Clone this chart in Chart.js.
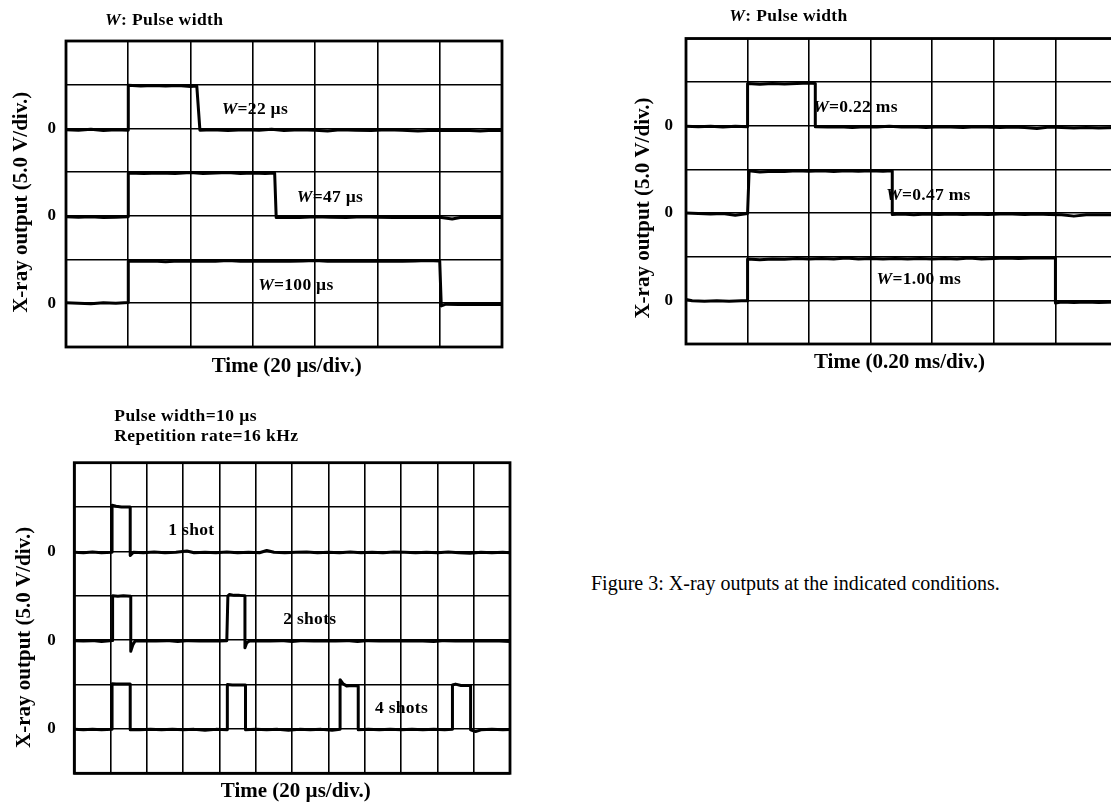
<!DOCTYPE html>
<html>
<head>
<meta charset="utf-8">
<script src="https://cdn.jsdelivr.net/npm/chart.js@4.4.1/dist/chart.umd.min.js"></script>
<style>
  html, body { margin: 0; padding: 0; background: #fff; overflow: hidden; }
  #page { position: relative; width: 1111px; height: 805px; overflow: hidden; background: #fff; }
  canvas { position: absolute; }
  #caption {
    position: absolute; left: 591px; top: 573px;
    font: 20px "Liberation Serif", "Times New Roman", serif; line-height: 20px;
    color: #000; white-space: nowrap;
  }
</style>
</head>
<body>
<div id="page">
  <canvas id="scopeWidthUs" width="540" height="380" style="left:0;top:0"></canvas>
  <canvas id="scopeWidthMs" width="520" height="380" style="left:620px;top:0"></canvas>
  <canvas id="scopeBurst" width="540" height="415" style="left:0;top:390px"></canvas>
  <div id="caption">Figure 3: X-ray outputs at the indicated conditions.</div>
</div>
<script>
// ---- scope settings -------------------------------------------------------
const VOLTS_PER_DIV = 5.0;          // vertical sensitivity
const DIVS_Y = 7;                   // graticule rows
const ZERO_LEVELS = [5, 3, 1];      // graticule row holding each trace's 0 V

// ---- panel 1: pulse widths in microseconds (20 us/div) -------------------
const usWidths = [22, 47, 100];
// [time (us), output (V)]
const usTraceW22 = [[0,-0.15],[4,-0.2],[8,-0.1],[12,-0.25],[16,-0.15],[20,-0.2],
  [20,4.95],[24,4.85],[28,4.9],[32,4.85],[36,4.9],[40,4.8],[42,4.85],
  [43,-0.2],[47,-0.15],[52,-0.25],[57,-0.15],[62,-0.2],[66,-0.1],[70,-0.25],[75,-0.15],
  [80,-0.2],[84,-0.3],[88,-0.15],[93,-0.2],[98,-0.25],[103,-0.15],[108,-0.2],[113,-0.3],
  [118,-0.2],[123,-0.25],[128,-0.2],[133,-0.3],[137,-0.2],[140,-0.25]];
const usTraceW47 = [[0,-0.1],[4,-0.15],[8,-0.1],[12,-0.2],[16,-0.15],[20,-0.1],
  [20,4.9],[25,4.85],[30,4.9],[35,4.85],[40,4.95],[44,4.85],[48,4.9],[52,4.95],[56,4.85],
  [60,4.9],[64,4.85],[67,4.9],
  [67.5,-0.2],[71,-0.15],[75,-0.2],[80,-0.1],[85,-0.15],[90,-0.2],[95,-0.1],[100,-0.15],
  [105,-0.2],[110,-0.15],[115,-0.2],[120,-0.15],[124,-0.35],[127,-0.15],[132,-0.2],
  [136,-0.15],[140,-0.2]];
const usTraceW100 = [[0,0.05],[4,0],[8,-0.05],[12,0.05],[16,0],[20,0.1],
  [20,4.85],[24,4.8],[28,4.85],[32,4.75],[36,4.85],[40,4.8],[44,4.85],[48,4.8],[52,4.9],
  [56,4.8],[60,4.85],[64,4.8],[68,4.85],[72,4.8],[76,4.85],[80,4.9],[84,4.8],[88,4.85],
  [92,4.8],[96,4.85],[100,4.8],[104,4.85],[108,4.8],[112,4.85],[116,4.9],[120,4.85],
  [120.5,-0.3],[122,-0.1],[126,-0.15],[130,-0.1],[134,-0.15],[138,-0.1],[140,-0.15]];
// label anchors [time (us), graticule row]
const usLabelAt = [[50, 5.44], [74.1, 3.43], [61.7, 1.41]];

// ---- panel 2: pulse widths in milliseconds (0.20 ms/div) -----------------
const msWidths = ['0.22', '0.47', '1.00'];
// [time (ms), output (V)]
const msTraceW022 = [[0,-0.05],[0.04,-0.1],[0.08,-0.05],[0.12,-0.15],[0.16,-0.05],[0.2,-0.1],
  [0.2,4.85],[0.24,4.75],[0.28,4.85],[0.32,4.8],[0.36,4.85],[0.4,4.9],[0.42,4.85],
  [0.42,-0.1],[0.46,-0.15],[0.5,-0.1],[0.54,-0.2],[0.58,-0.1],[0.62,-0.15],[0.66,-0.05],
  [0.7,-0.15],[0.74,-0.1],[0.78,-0.2],[0.82,-0.1],[0.86,-0.15],[0.9,-0.2],[0.94,-0.1],
  [0.98,-0.15],[1.02,-0.2],[1.06,-0.15],[1.1,-0.2],[1.14,-0.3],[1.18,-0.15],[1.22,-0.2],
  [1.26,-0.25],[1.3,-0.2],[1.34,-0.25],[1.4,-0.2]];
const msTraceW047 = [[0,0],[0.04,-0.05],[0.08,-0.1],[0.12,-0.05],[0.16,-0.25],[0.2,-0.05],
  [0.205,4.85],[0.24,4.7],[0.28,4.8],[0.32,4.75],[0.36,4.85],[0.4,4.8],[0.44,4.85],
  [0.48,4.75],[0.52,4.85],[0.56,4.8],[0.6,4.85],[0.64,4.8],[0.67,4.85],
  [0.67,-0.15],[0.7,-0.1],[0.74,-0.2],[0.78,-0.1],[0.82,-0.15],[0.86,-0.1],[0.9,-0.15],
  [0.94,-0.1],[0.98,-0.15],[1.02,-0.1],[1.06,-0.1],[1.1,-0.15],[1.14,-0.1],[1.18,-0.15],
  [1.22,-0.2],[1.26,-0.35],[1.3,-0.2],[1.34,-0.2],[1.4,-0.2]];
const msTraceW100 = [[0,0.1],[0.02,-0.05],[0.06,-0.1],[0.1,-0.05],[0.14,-0.1],[0.18,-0.05],[0.2,-0.05],
  [0.2,4.75],[0.24,4.65],[0.28,4.75],[0.32,4.7],[0.36,4.8],[0.4,4.75],[0.44,4.8],[0.48,4.75],
  [0.52,4.85],[0.56,4.75],[0.6,4.8],[0.64,4.75],[0.68,4.8],[0.72,4.75],[0.76,4.8],[0.8,4.75],
  [0.84,4.8],[0.88,4.75],[0.92,4.85],[0.96,4.75],[1,4.8],[1.04,4.85],[1.08,4.8],[1.12,4.85],
  [1.16,4.85],[1.2,4.85],
  [1.2,-0.3],[1.22,-0.2],[1.26,-0.25],[1.3,-0.2],[1.34,-0.25],[1.4,-0.2]];
// label anchors [time (ms), graticule row]
const msLabelAt = [[0.413, 5.43], [0.65, 3.41], [0.619, 1.47]];

// ---- panel 3: 10 us pulses at 16 kHz (20 us/div) --------------------------
const burstWidthUs = 10;
const burstRateKHz = 16;
const burstShots = [1, 2, 4];
// [time (us), output (V)]
const burstTrace1 = [[0,-0.1],[5,-0.15],[10,-0.05],[15,-0.15],[20.8,-0.1],
  [20.8,5.2],[23,5.1],[26,5.0],[30.8,5.0],
  [30.8,-0.45],[32.5,-0.1],[38,-0.15],[44,-0.05],[50,-0.15],[56,-0.1],[62,0.05],[66,-0.15],
  [72,-0.1],[78,-0.15],[84,-0.05],[90,-0.15],[96,-0.1],[102,-0.15],[106,0.1],[110,-0.1],
  [116,-0.15],[122,-0.1],[128,-0.05],[134,-0.15],[140,-0.1],[146,-0.15],[152,-0.05],
  [158,-0.15],[164,-0.1],[170,-0.15],[176,-0.05],[182,-0.1],[188,-0.15],[194,-0.1],
  [200,-0.15],[206,-0.05],[212,-0.15],[218,-0.2],[224,-0.1],[230,-0.15],[236,-0.1],[240,-0.15]];
const burstTrace2 = [[0,-0.05],[5,-0.1],[10,-0.05],[15,-0.15],[21.1,-0.05],
  [21.1,5.0],[24,4.95],[27,5.0],[31.1,4.95],
  [31.1,-1.25],[32.3,-0.5],[33.5,-0.1],[39,-0.05],[45,-0.1],[51,-0.05],[57,-0.15],[63,-0.05],
  [69,-0.1],[75,-0.05],[80,-0.1],[84,-0.05],
  [84.6,5.0],[85.5,5.15],[88,5.05],[91,5.05],[94,5.0],
  [94,-0.85],[95,-0.3],[96.5,-0.1],[102,-0.05],[108,-0.1],[114,-0.05],[120,-0.15],[126,-0.05],
  [132,-0.1],[138,-0.05],[144,-0.1],[150,-0.05],[156,-0.15],[162,-0.05],[168,-0.1],[174,-0.05],
  [180,-0.1],[186,-0.05],[192,-0.1],[198,-0.15],[204,-0.05],[210,-0.1],[216,-0.05],[222,-0.1],
  [228,-0.05],[234,-0.1],[240,-0.15]];
const burstTrace4 = [[0,-0.05],[5,-0.1],[10,-0.05],[15,-0.1],[20.8,-0.05],
  [20.8,5.1],[23,5.05],[26,5.05],[30.8,5.05],
  [30.8,-0.1],[36,-0.1],[42,-0.05],[48,-0.1],[54,-0.05],[60,-0.1],[66,-0.05],[72,-0.15],
  [78,-0.05],[84.3,-0.1],
  [84.3,5.0],[87,4.95],[91,4.95],[94.3,4.95],
  [94.3,-0.1],[100,-0.05],[106,-0.1],[112,-0.05],[118,-0.15],[124,-0.05],[130,-0.1],
  [136,-0.05],[142,-0.15],[146.4,-0.05],
  [146.4,5.55],[148,5.1],[150,4.85],[153,4.9],[156.4,4.85],
  [156.4,-0.1],[162,-0.05],[168,-0.1],[174,-0.05],[180,-0.1],[186,-0.05],[192,-0.1],
  [198,-0.05],[204,-0.1],[208.3,-0.05],
  [208.3,4.95],[210,5.05],[213,4.9],[218.3,4.9],
  [218.3,-0.1],[221,-0.3],[224,-0.1],[230,-0.05],[236,-0.1],[240,-0.05]];
// label anchors [time (us), graticule row]
const burstLabelAt = [[51.8, 5.48], [115.1, 3.46], [165.6, 1.46]];

// ---- drawing helpers --------------------------------------------------------
const SERIF = '"Liberation Serif", "Times New Roman", serif';
const INK = '#000';

// draws a row of text pieces, some italic, starting at x (left) centred on y
function drawRuns(ctx, runs, x, y, size, spacing) {
  ctx.textAlign = 'left';
  ctx.textBaseline = 'middle';
  ctx.letterSpacing = spacing + 'px';
  for (const r of runs) {
    ctx.font = (r.italic ? 'italic ' : '') + 'bold ' + size + 'px ' + SERIF;
    ctx.fillText(r.text, x, y);
    x += ctx.measureText(r.text).width;
  }
  ctx.letterSpacing = '0px';
}

// frame, headers, trace notes and axis titles for one scope panel
function decor(s) {
  return {
    id: 'scopeDecor',
    afterDraw(chart) {
      const { ctx, chartArea: a, scales } = chart;
      ctx.save();
      ctx.strokeStyle = INK;
      ctx.lineWidth = 2.8;
      ctx.strokeRect(a.left, a.top, a.right - a.left, a.bottom - a.top);
      ctx.fillStyle = INK;
      for (const h of s.header) drawRuns(ctx, h.runs, h.x, h.y, 17.5, 0.4);
      s.notes.forEach((runs, i) => {
        const [t, row] = s.noteAt[i];
        drawRuns(ctx, runs, scales.x.getPixelForValue(t), scales.y.getPixelForValue(row), 17.5, 0.3);
      });
      ctx.font = 'bold 21px ' + SERIF;
      ctx.textAlign = 'center';
      ctx.textBaseline = 'middle';
      ctx.fillText(s.xTitle, s.xTitlePos[0], s.xTitlePos[1]);
      ctx.translate(s.yTitlePos[0], s.yTitlePos[1]);
      ctx.rotate(-Math.PI / 2);
      ctx.fillText('X-ray output (5.0 V/div.)', 0, 0);
      ctx.restore();
    }
  };
}

function scope(id, s) {
  const grid = { color: INK, lineWidth: 1.6, drawTicks: false };
  new Chart(document.getElementById(id), {
    type: 'line',
    data: {
      datasets: s.traces.map((pts, i) => ({
        data: pts.map(([t, v]) => ({ x: t, y: ZERO_LEVELS[i] + v / VOLTS_PER_DIV })),
        borderColor: '#000',
        borderWidth: 3,
        pointRadius: 0,
        tension: 0,
        fill: false,
        borderJoinStyle: 'round',
        borderCapStyle: 'round'
      }))
    },
    options: {
      responsive: false,
      animation: false,
      events: [],
      layout: { padding: s.pad },
      plugins: { legend: { display: false }, tooltip: { enabled: false } },
      scales: {
        x: {
          type: 'linear', min: 0, max: s.tMax,
          ticks: { display: false, stepSize: s.tDiv },
          grid, border: { display: false }
        },
        y: {
          type: 'linear', min: 0, max: DIVS_Y,
          afterFit: sc => { sc.width = s.axisW; },
          ticks: {
            stepSize: 1, padding: s.tickPad, color: INK,
            font: { family: SERIF, size: 17, weight: 'bold' },
            callback: v => (ZERO_LEVELS.includes(v) ? '0' : '')
          },
          grid, border: { display: false }
        }
      }
    },
    plugins: [decor(s)]
  });
}

const widthHeader = [{ runs: [{ text: 'W', italic: true }, { text: ': Pulse width' }] }];

scope('scopeWidthUs', {
  traces: [usTraceW22, usTraceW47, usTraceW100],
  tMax: 140, tDiv: 20,
  pad: { top: 41, right: 38, bottom: 33, left: 0 }, axisW: 66, tickPad: 10,
  header: [{ ...widthHeader[0], x: 105, y: 20.7 }],
  notes: usWidths.map(w => [{ text: 'W', italic: true }, { text: '=' + w + ' µs' }]),
  noteAt: usLabelAt,
  xTitle: 'Time (20 µs/div.)', xTitlePos: [286.7, 366.7], yTitlePos: [21.7, 202.3]
});

scope('scopeWidthMs', {
  traces: [msTraceW022, msTraceW047, msTraceW100],
  tMax: 1.4, tDiv: 0.2,
  pad: { top: 38.5, right: 23, bottom: 36, left: 0 }, axisW: 66, tickPad: 13,
  header: [{ ...widthHeader[0], x: 109.3, y: 16.7 }],
  notes: msWidths.map(w => [{ text: 'W', italic: true }, { text: '=' + w + ' ms' }]),
  noteAt: msLabelAt,
  xTitle: 'Time (0.20 ms/div.)', xTitlePos: [279.5, 362.7], yTitlePos: [23.3, 208]
});

scope('scopeBurst', {
  traces: [burstTrace1, burstTrace2, burstTrace4],
  tMax: 240, tDiv: 20,
  pad: { top: 72.7, right: 30, bottom: 31.7, left: 0 }, axisW: 74.3, tickPad: 18.6,
  header: [
    { runs: [{ text: 'Pulse width=' + burstWidthUs + ' µs' }], x: 114.3, y: 26 },
    { runs: [{ text: 'Repetition rate=' + burstRateKHz + ' kHz' }], x: 114.3, y: 46.7 }
  ],
  notes: burstShots.map(n => [{ text: n + (n === 1 ? ' shot' : ' shots') }]),
  noteAt: burstLabelAt,
  xTitle: 'Time (20 µs/div.)', xTitlePos: [295.8, 401.7], yTitlePos: [24.1, 247.4]
});
</script>
</body>
</html>
